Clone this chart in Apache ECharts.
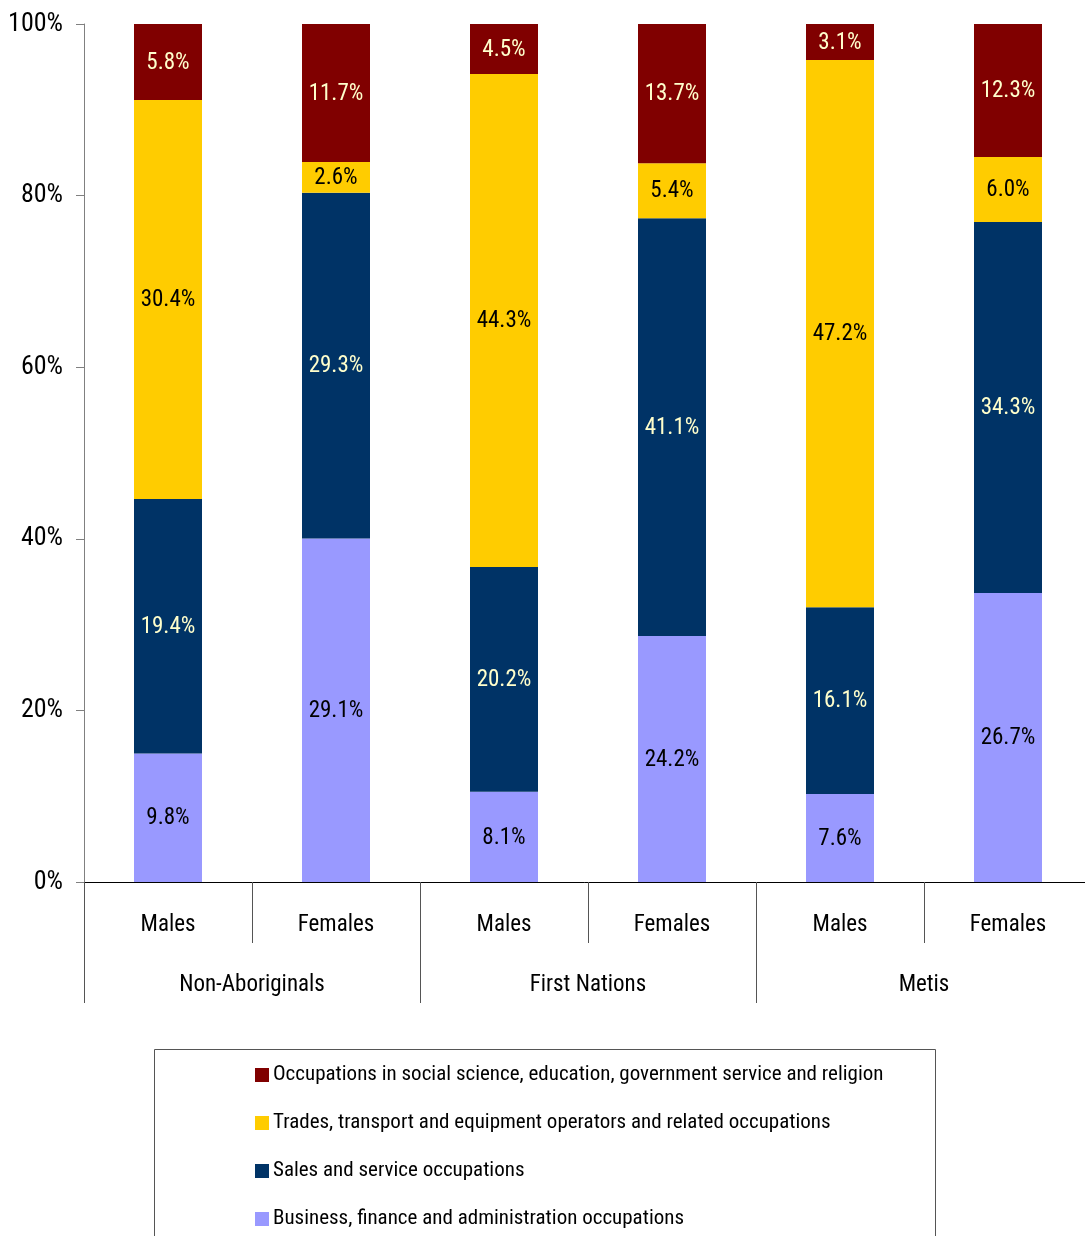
<!DOCTYPE html>
<html>
<head>
<meta charset="utf-8">
<script src="https://cdn.jsdelivr.net/npm/echarts@6/dist/echarts.min.js"></script>
<style>
  html, body { margin: 0; padding: 0; background: #fff; }
  #chart { width: 1085px; height: 1236px; }
</style>
</head>
<body>
<div id="chart"></div>
<script>
// Occupation shares (percent of each group), shown in the labels
const genders = ['Males', 'Females', 'Males', 'Females', 'Males', 'Females'];
const groups = ['Non-Aboriginals', 'First Nations', 'Metis'];
const yTicks = [0, 20, 40, 60, 80, 100];

const business = [9.8, 29.1, 8.1, 24.2, 7.6, 26.7];
const sales = [19.4, 29.3, 20.2, 41.1, 16.1, 34.3];
const trades = [30.4, 2.6, 44.3, 5.4, 47.2, 6.0];
const social = [5.8, 11.7, 4.5, 13.7, 3.1, 12.3];

const seriesNames = [
  'Business, finance and administration occupations',
  'Sales and service occupations',
  'Trades, transport and equipment operators and related occupations',
  'Occupations in social science, education, government service and religion'
];
const seriesValues = [business, sales, trades, social];
const seriesColors = ['#9999FF', '#003366', '#FFCC00', '#800000'];
const labelColors = ['#000000', '#FFFFCC', '#000000', '#FFFFCC'];

const FONT = "'Roboto Condensed', 'DejaVu Sans Condensed', sans-serif";

// Each column is drawn as a 100% stack of the four shown values
const totals = genders.map((_, i) => seriesValues.reduce((s, arr) => s + arr[i], 0));

const series = seriesValues.map((vals, k) => ({
  name: seriesNames[k],
  type: 'bar',
  stack: 'total',
  barWidth: 68,
  xAxisIndex: 0,
  itemStyle: { color: seriesColors[k] },
  data: vals.map((v, i) => ({ value: v / totals[i] * 100, raw: v })),
  label: {
    show: true,
    position: 'inside',
    offset: [0, 1],
    fontFamily: FONT,
    fontSize: 23,
    color: labelColors[k],
    formatter: p => p.data.raw.toFixed(1) + '%'
  },
  emphasis: { disabled: true }
}));

const chart = echarts.init(document.getElementById('chart'));
chart.setOption({
  animation: false,
  backgroundColor: '#ffffff',
  grid: { left: 84, top: 24, width: 1008, height: 858, containLabel: false, outerBoundsMode: 'none' },
  xAxis: [
    {
      type: 'category',
      data: genders,
      position: 'bottom',
      axisLine: { show: true, lineStyle: { color: '#000', width: 1 } },
      axisTick: { show: true, length: 61, interval: 0, lineStyle: { color: '#555' } },
      axisLabel: { interval: 0, margin: 32, fontFamily: FONT, fontSize: 23, color: '#000' }
    },
    {
      type: 'category',
      data: groups,
      position: 'bottom',
      axisLine: { show: false },
      axisTick: { show: true, length: 121, interval: 0, lineStyle: { color: '#555' } },
      axisLabel: { interval: 0, margin: 92, fontFamily: FONT, fontSize: 23, color: '#000' }
    }
  ],
  yAxis: {
    type: 'value',
    min: yTicks[0],
    max: yTicks[yTicks.length - 1],
    interval: 20,
    axisLine: { show: true, lineStyle: { color: '#808080' } },
    axisTick: { show: true, inside: false, length: 8, lineStyle: { color: '#808080' } },
    splitLine: { show: false },
    axisLabel: { margin: 21, fontFamily: FONT, fontSize: 26, color: '#000', formatter: '{value}%' }
  },
  legend: {
    orient: 'vertical',
    left: 255,
    top: 1063,
    padding: 0,
    itemGap: 24,
    itemWidth: 14,
    itemHeight: 14,
    icon: 'rect',
    data: seriesNames.slice().reverse(),
    textStyle: { fontFamily: FONT, fontSize: 21, color: '#000', padding: [0, 0, 0, -1], lineHeight: 24 },
    selectedMode: false
  },
  graphic: [
    {
      type: 'rect',
      left: 152,
      top: 1047,
      shape: { x: 0, y: 0, width: 781, height: 200 },
      style: { fill: 'none', stroke: '#555', lineWidth: 1 },
      silent: true
    }
  ],
  series: series
});
</script>
</body>
</html>
